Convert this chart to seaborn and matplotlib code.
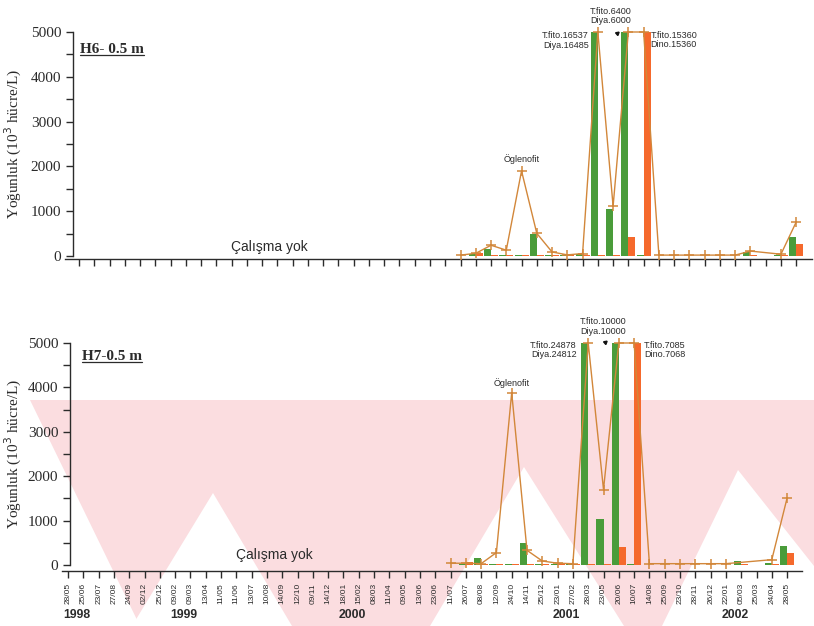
import numpy as np
import pandas as pd
import matplotlib
matplotlib.use("Agg")
import matplotlib.pyplot as plt
from matplotlib.lines import Line2D
from matplotlib.patches import Polygon
from matplotlib.transforms import offset_copy
import seaborn as sns

# ---------------------------------------------------------------- data
# sampling dates (day/month) along the x axis
dates = ["28/05", "25/06", "23/07", "27/08", "24/09", "02/12", "25/12",
         "09/02", "09/03", "13/04", "11/05", "11/06", "13/07", "10/08",
         "14/09", "12/10", "09/11", "14/12",
         "18/01", "15/02", "08/03", "11/04", "09/05", "13/06", "23/06",
         "11/07", "26/07", "08/08", "12/09", "24/10", "14/11", "25/12",
         "23/01", "27/02", "28/03", "23/05", "20/06", "10/07", "14/08",
         "25/09", "23/10", "28/11", "26/12",
         "22/01", "05/03", "25/03", "24/04", "28/05"]
year_names = ["1998", "1999", "2000", "2001", "2002"]
year_counts = [7, 11, 14, 11, 5]          # number of dates in each year
first_sampled = "11/07"                   # sampling starts here (2000)

nan = np.nan
# H6 - 0.5 m  (10^3 hücre/L), from 11/07/2000 on
h6_total = [20, 60, 240, 130, 1900, 505, 90, 25, 55, 16537, 1110, 6400, 15360,
            20, 20, 20, 20, 20, 20, 110, nan, 40, 760]
h6_diya = [10, 40, 150, 20, 20, 500, 20, 30, 40, 16485, 1040, 6000, 20,
           0, 0, 0, 0, 0, 0, 95, 0, 30, 420]
h6_dino = [10, 60, 20, 15, 15, 15, 20, 30, 20, 20, 15, 420, 15360,
           0, 0, 0, 0, 0, 0, 20, 0, 15, 260]

# H7 - 0.5 m
h7_total = [40, 40, 30, 280, 3880, 330, 90, 40, 30, 24878, 1700, 10000, 7085,
            30, 30, 30, 30, 30, 30, nan, nan, 120, 1510]
h7_diya = [10, 20, 150, 20, 20, 500, 20, 20, 20, 24812, 1040, 10000, 20,
           0, 0, 0, 0, 0, 0, 100, 0, 40, 420]
h7_dino = [10, 60, 20, 15, 15, 15, 15, 15, 15, 20, 15, 410, 7068,
           0, 0, 0, 0, 0, 0, 30, 0, 15, 260]

YMAX = 5000

# ---------------------------------------------------------------- style
sns.set_style("ticks")
plt.rcParams["font.family"] = ["Liberation Sans", "DejaVu Sans"]
SERIF = ["Liberation Serif", "DejaVu Serif"]
SANS = ["Liberation Sans", "DejaVu Sans"]
INK = "#2b2b2b"
GREEN = "#4a9c3a"
ORANGE = "#f5692c"
LINE = "#d2873a"
PINK = "#fbdde0"

fig = plt.figure(figsize=(8.14, 6.26), dpi=100)
W, H = 814.0, 626.0


def px(points):
    """pixel (from top-left) -> figure fraction"""
    return [(x / W, 1 - y / H) for x, y in points]


# pale chevron band in the lower part of the page
fig.patches.append(Polygon(px([(0, 400), (W, 400), (W, H), (0, H)]),
                           closed=True, transform=fig.transFigure,
                           facecolor=PINK, edgecolor="none", zorder=-10))
for shape in ([(0, 400), (30, 400), (140, 626), (0, 626)],
              [(213, 493), (292, 626), (132, 626)],
              [(524, 467), (624, 626), (430, 626)],
              [(738, 470), (814, 566), (814, 626), (662, 626)]):
    fig.patches.append(Polygon(px(shape), closed=True,
                               transform=fig.transFigure, facecolor="white",
                               edgecolor="none", zorder=-9))


def panel(rect_px, first_tick_px, spacing_px, yaxis_px, total, diya, dino,
          title, title_px, notes, note_offsets, ogl_offset, arrow_pt,
          calisma_xy, show_labels, spine_drop):
    left, right, ytop, ybot = rect_px
    ax = fig.add_axes([left / W, (H - ybot) / H, (right - left) / W,
                       (ybot - ytop) / H])
    ax.set_facecolor("none")
    n = len(dates)
    start = dates.index(first_sampled)
    idx = np.arange(start, n)

    # bars: diatoms (left of the tick) and dinoflagellates (right of it)
    bars = pd.DataFrame({
        "pos": np.concatenate([idx, idx]),
        "val": np.minimum(np.concatenate([diya, dino]), YMAX),
        "grup": ["Diya"] * len(idx) + ["Dino"] * len(idx),
    })
    sns.barplot(data=bars, x="pos", y="val", hue="grup", order=list(range(n)),
                hue_order=["Diya", "Dino"], palette=[GREEN, ORANGE],
                width=0.92, dodge=True, errorbar=None, legend=False,
                saturation=1, ax=ax, linewidth=0)

    # total phytoplankton line (values above the axis top are held at it)
    tot = np.asarray(total, float)
    line = pd.DataFrame({"pos": idx, "val": np.minimum(tot, YMAX)}).dropna()
    sns.lineplot(data=line, x="pos", y="val", color=LINE, lw=1.0,
                 marker="+", markersize=7, markeredgewidth=1.1,
                 markeredgecolor=LINE, ax=ax, sort=True, zorder=5,
                 clip_on=False)

    ax.set_xlim((left - first_tick_px) / spacing_px,
                (right - first_tick_px) / spacing_px)
    ax.set_ylim(0, YMAX)
    ax.set_xlabel("")
    ax.set_ylabel("Yoğunluk (10$^3$ hücre/L)", family=SERIF, fontsize=11,
                  color=INK, va="center")
    ax.yaxis.set_label_coords((13 - left) / (right - left), 0.5)

    for s in ("top", "right"):
        ax.spines[s].set_visible(False)
    ax.spines["left"].set_position(
        ("data", (yaxis_px - first_tick_px) / spacing_px))
    ax.spines["bottom"].set_position(("outward", spine_drop))
    for s in ("left", "bottom"):
        ax.spines[s].set_color(INK)
        ax.spines[s].set_linewidth(1.0)

    ax.set_yticks([0, 1000, 2000, 3000, 4000, 5000])
    ax.set_yticks([500, 1500, 2500, 3500, 4500], minor=True)
    ax.set_yticklabels(["0", "1000", "2000", "3000", "4000", "5000"],
                       family=SERIF, fontsize=11, color=INK)
    ax.tick_params(axis="y", which="both", direction="out", length=5,
                   width=1, color=INK, pad=3.5)

    ax.set_xticks(range(n))
    if show_labels:
        ax.set_xticklabels(dates, rotation=90, fontsize=6, family=SANS,
                           color=INK, va="top")
    else:
        ax.set_xticklabels([])
    ax.tick_params(axis="x", direction="out", length=5, width=1, color=INK,
                   pad=4)

    # panel title
    t = ax.text((title_px[0] - left) / (right - left),
                (ybot - title_px[1]) / (ybot - ytop), title,
                transform=ax.transAxes, family=SERIF, fontsize=11,
                fontweight="bold", color=INK, va="center", ha="left")

    # notes beside the peaks cut at the axis top
    for (i, txt), (dx, dy, ha) in zip(notes, note_offsets):
        ax.annotate(txt, xy=(i, YMAX), xytext=(dx, dy),
                    textcoords="offset points", ha=ha, va="center",
                    fontsize=6.5, family=SANS, color=INK, linespacing=1.05,
                    annotation_clip=False)

    # euglenophyte peak before the spring bloom
    early = np.where(idx < dates.index("28/03"), tot, -1)
    peak = int(np.nanargmax(early))
    ax.annotate("Öglenofit", xy=(idx[peak], tot[peak]), xytext=(0, ogl_offset),
                textcoords="offset points", ha="center", va="center",
                fontsize=6.5, family=SANS, color=INK)

    # tiny arrow head beside the middle note
    tr = offset_copy(ax.transData, fig=fig, x=arrow_pt[0], y=arrow_pt[1],
                     units="points")
    ax.plot([notes[1][0]], [YMAX], marker=(3, 0, 70), ms=3, color="#111",
            transform=tr, clip_on=False, ls="none")

    ax.text(calisma_xy[0], calisma_xy[1], "Çalışma yok", family=SANS,
            fontsize=10, color=INK, ha="center", va="center")
    return ax, t


ax1, t1 = panel(
    (65, 812, 32, 256), 79, 15.26, 73, h6_total, h6_diya, h6_dino,
    "H6- 0.5 m", (80, 49.3),
    [(34, "T.fito.16537\nDiya.16485"), (36, "T.fito.6400\nDiya.6000"),
     (37, "T.fito.15360\nDino.15360")],
    [(-6.5, -6.0, "right"), (-13, 11.5, "center"), (5, -5.8, "left")],
    8.6, (-8.5, -0.7), (12.5, 206), False, 2.5)

ax2, t2 = panel(
    (62, 802, 343, 565), 68, 15.3, 70, h7_total, h7_diya, h7_dino,
    "H7-0.5 m", (82, 356.7),
    [(34, "T.fito.24878\nDiya.24812"), (36, "T.fito.10000\nDiya.10000"),
     (37, "T.fito.7085\nDino.7068")],
    [(-8.3, -5.0, "right"), (-11, 12.0, "center"), (7, -5.0, "left")],
    6.7, (-10, 0.7), (13.5, 223), True, 4.0)

# year labels under the date axis
pos = 0
for name, cnt in zip(year_names, year_counts):
    ax2.text(pos + 0.6, (565 - 615.5) / 222.0, name,
             transform=ax2.get_xaxis_transform(), ha="center", va="center",
             fontsize=8.8, fontweight="bold", family=SANS, color=INK)
    pos += cnt

# underline the panel titles
fig.canvas.draw()
rend = fig.canvas.get_renderer()
for t in (t1, t2):
    bb = t.get_window_extent(rend)
    yy = bb.y0 + 1
    fig.add_artist(Line2D([bb.x0 / W, bb.x1 / W], [yy / H, yy / H],
                          color=INK, lw=0.9, transform=fig.transFigure))

fig.savefig("out.png", dpi=100, facecolor="white")
